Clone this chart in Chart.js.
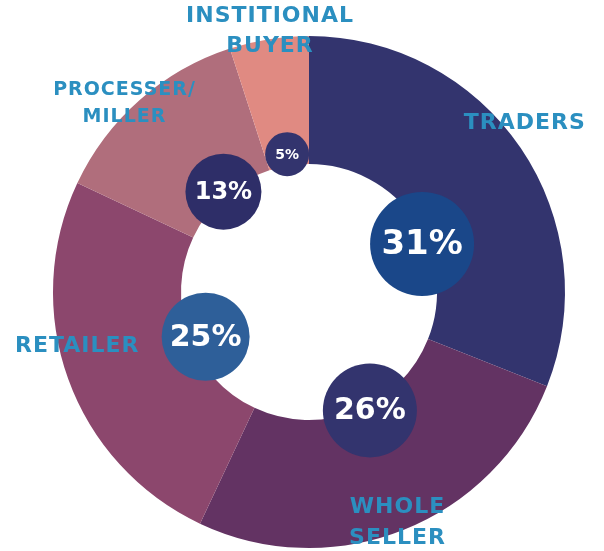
<!DOCTYPE html>
<html>
<head>
<meta charset="utf-8">
<script src="https://cdn.jsdelivr.net/npm/chart.js@4.4.1/dist/chart.umd.min.js"></script>
<style>
  html, body { margin: 0; padding: 0; background: #fff; }
  #wrap { width: 604px; height: 551px; }
</style>
</head>
<body>
<div id="wrap"><canvas id="myChart"></canvas></div>
<script>
// chart data
const categories = ['TRADERS', 'WHOLE\nSELLER', 'RETAILER', 'PROCESSER/\nMILLER', 'INSTITIONAL\nBUYER'];
const shares = [31, 26, 25, 13, 5];
const sliceColors = ['#33346e', '#633363', '#8c476d', '#b06e7c', '#e08a82'];
const bubbleColors = ['#1a4789', '#33346e', '#2e5f99', '#2e2e68', '#33346e'];

// where the % bubbles and category names sit (angle fraction in slice, radius in ring units)
const bubbleAt = [0.6, 0.44, 0.46, 0.52, 0.5];
const bubbleDist = [0.96, 1.04, 0.88, 1.03, 1.09];
const bubbleSize = [52, 47, 44, 38, 22];
const bubbleFont = [34, 30, 30, 24, 14];
const labelAngle = [52, 159, 256.7, 315.6, 351.5];
const labelDist = [1.07, 0.965, 0.93, 1.03, 1.03];
const labelFont = [22, 22, 22, 19, 22];

const FONT = '"DejaVu Sans", sans-serif';

const bubblePlugin = {
    id: 'bubbles',
    afterDatasetsDraw(chart) {
        const ctx = chart.ctx;
        const meta = chart.getDatasetMeta(0);
        meta.data.forEach((arc, i) => {
            const p = arc.getProps(['x', 'y', 'startAngle', 'endAngle', 'innerRadius', 'outerRadius'], true);
            const a = p.startAngle + (p.endAngle - p.startAngle) * bubbleAt[i];
            const d = p.innerRadius * bubbleDist[i];
            const cx = p.x + Math.cos(a) * d;
            const cy = p.y + Math.sin(a) * d;
            ctx.save();
            ctx.beginPath();
            ctx.arc(cx, cy, bubbleSize[i], 0, Math.PI * 2);
            ctx.fillStyle = bubbleColors[i];
            ctx.fill();
            ctx.fillStyle = '#fff';
            ctx.font = 'bold ' + bubbleFont[i] + 'px ' + FONT;
            ctx.textAlign = 'center';
            ctx.textBaseline = 'middle';
            ctx.fillText(shares[i] + '%', cx, cy + 1);
            ctx.restore();

            // category name outside / on the ring
            const la = (labelAngle[i] - 90) * Math.PI / 180;
            const lx = p.x + Math.cos(la) * p.outerRadius * labelDist[i];
            const ly = p.y + Math.sin(la) * p.outerRadius * labelDist[i];
            const lines = categories[i].split('\n');
            const lh = labelFont[i] * 1.4;
            ctx.save();
            ctx.fillStyle = '#2b8fc0';
            ctx.font = 'bold ' + labelFont[i] + 'px ' + FONT;
            ctx.letterSpacing = '1px';
            ctx.textAlign = 'center';
            ctx.textBaseline = 'middle';
            lines.forEach((t, k) => {
                ctx.fillText(t, lx, ly + (k - (lines.length - 1) / 2) * lh);
            });
            ctx.restore();
        });
    }
};

const ctx = document.getElementById('myChart').getContext('2d');
const myChart = new Chart(ctx, {
    type: 'doughnut',
    plugins: [bubblePlugin],
    data: {
        labels: categories,
        datasets: [{
            data: shares,
            backgroundColor: sliceColors,
            borderWidth: 0,
        }],
    },
    options: {
        responsive: true,
        maintainAspectRatio: false,
        animation: false,
        cutout: '50%',
        layout: { padding: { top: 36, bottom: 3, left: 14, right: 0 } },
        plugins: {
            legend: { display: false },
            tooltip: { enabled: false },
        }
    }
});
</script>
</body>
</html>
